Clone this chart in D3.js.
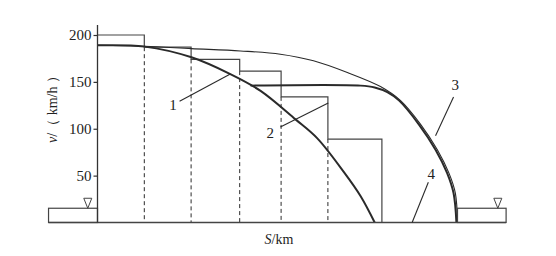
<!DOCTYPE html>
<html>
<head>
<meta charset="utf-8">
<script src="https://cdn.jsdelivr.net/npm/d3@7"></script>
<style>
  body { margin: 0; background: #fff; }
  svg text { font-family: "Liberation Serif", "DejaVu Serif", serif; fill: #222; }
</style>
</head>
<body>
<svg id="chart" width="556" height="256"></svg>
<script>
// distance (km, arbitrary units) and speed (km/h)
const vTicks = [50, 100, 150, 200];

// speed-limit steps
const stepS = [0, 13, 26, 39.5, 51, 64, 79];
const stepV = [200, 187, 174, 161.5, 134, 89, 0];

// curve 1: braking curve from the start
const c1S = [0, 13.1, 26.1, 36.9, 45.3, 55, 61, 68.4, 73.1, 77];
const c1V = [189, 187.6, 176.2, 158.3, 140.4, 110, 90, 54, 28, 0];

// curve 2: constant 146 then braking to the station
const c2S = [42.5, 73.1, 77, 80.5, 83.8, 89.2, 93.9, 97.1, 98.9, 99.7];
const c2V = [146, 146, 144, 139, 130, 105, 77.6, 52.9, 31.4, 0];

// curve 3: max speed curve
const c3S = [0, 13.1, 26.1, 39.7, 50.8, 60, 69.4, 78.6, 84.2, 89.7, 94.4, 97.6, 99.4, 100];
const c3V = [189, 188, 185.5, 183, 179.5, 172.5, 160, 145, 130, 105, 77.6, 52.9, 31.4, 0];

// station platforms and labels
const platforms = [[-13.6, 0], [100, 113.5]];
const platformV = 15.2;
const marks = [-2.7, 111.2];
const labels = [
  { t: "1", s: 21, v: 125.5, line: [[22.8, 129.4], [36.9, 158.3]] },
  { t: "2", s: 48, v: 95.8, line: [[50.8, 101.8], [64.1, 127.4]] },
  { t: "3", s: 99.4, v: 146.4, line: [[98.9, 133.8], [93.9, 92.5]] },
  { t: "4", s: 92.7, v: 52, line: [[91.9, 43], [87.4, 0]] }
];

const svg = d3.select("#chart");
const x = d3.scaleLinear().domain([0, 100]).range([97.5, 457.5]);
const y = d3.scaleLinear().domain([0, 200]).range([222.5, 35]);
const ink = "#2a2a2a";

const line = d3.line().x(d => x(d[0])).y(d => y(d[1]));
const zip = (a, b) => a.map((s, i) => [s, b[i]]);

// dashed verticals under each step
for (let i = 1; i < stepS.length - 1; i++) {
  svg.append("line")
    .attr("x1", x(stepS[i])).attr("x2", x(stepS[i]))
    .attr("y1", y(stepV[i])).attr("y2", y(0))
    .attr("stroke", ink).attr("stroke-width", 1)
    .attr("stroke-dasharray", "4,3");
}

// steps
svg.append("path")
  .attr("d", line.curve(d3.curveStepAfter)(zip(stepS, stepV)))
  .attr("fill", "none").attr("stroke", "#444").attr("stroke-width", 1.2);

line.curve(d3.curveCatmullRom.alpha(0.5));
svg.append("path").attr("d", line(zip(c3S, c3V)))
  .attr("fill", "none").attr("stroke", ink).attr("stroke-width", 1.1);
svg.append("path").attr("d", line(zip(c1S, c1V)))
  .attr("fill", "none").attr("stroke", ink).attr("stroke-width", 2);
svg.append("path").attr("d", line(zip(c2S, c2V)))
  .attr("fill", "none").attr("stroke", ink).attr("stroke-width", 2);

// platforms
platforms.forEach(p => {
  svg.append("rect")
    .attr("x", x(p[0])).attr("y", y(platformV))
    .attr("width", x(p[1]) - x(p[0])).attr("height", y(0) - y(platformV))
    .attr("fill", "none").attr("stroke", "#444").attr("stroke-width", 1.2);
});
marks.forEach(s => {
  const cx = x(s), top = y(platformV);
  svg.append("path")
    .attr("d", `M${cx - 4},${top - 10}L${cx + 4},${top - 10}L${cx},${top}Z`)
    .attr("fill", "none").attr("stroke", "#444").attr("stroke-width", 1);
});

// baseline
svg.append("line")
  .attr("x1", x(platforms[0][0])).attr("x2", x(platforms[1][1]))
  .attr("y1", y(0)).attr("y2", y(0))
  .attr("stroke", "#444").attr("stroke-width", 1.3);

// y axis
const yAxis = svg.append("g").attr("transform", `translate(${x(0)},0)`)
  .call(d3.axisLeft(y).tickValues(vTicks).tickSize(4).tickPadding(2));
yAxis.select(".domain").remove();
yAxis.selectAll(".tick line").attr("stroke", "#333").attr("stroke-width", 1.2);
yAxis.selectAll(".tick text").attr("font-size", 15)
  .attr("font-family", "Liberation Serif").attr("fill", "#222");
svg.append("line")
  .attr("x1", x(0)).attr("x2", x(0)).attr("y1", 25).attr("y2", y(0))
  .attr("stroke", "#333").attr("stroke-width", 1.3);

// axis titles
svg.append("text")
  .attr("transform", "translate(57,106) rotate(-90)")
  .attr("text-anchor", "middle").attr("font-size", 14)
  .html('<tspan font-style="italic">v</tspan>/（ km/h ）');
svg.append("text")
  .attr("x", 279).attr("y", 244)
  .attr("text-anchor", "middle").attr("font-size", 14)
  .html('<tspan font-style="italic">S</tspan>/km');

// callouts
labels.forEach(l => {
  svg.append("path").attr("d", d3.line().x(d => x(d[0])).y(d => y(d[1]))(l.line))
    .attr("stroke", ink).attr("stroke-width", 1.1).attr("fill", "none");
  svg.append("text")
    .attr("x", x(l.s)).attr("y", y(l.v))
    .attr("text-anchor", "middle").attr("dominant-baseline", "central")
    .attr("font-size", 15).text(l.t);
});
</script>
</body>
</html>
